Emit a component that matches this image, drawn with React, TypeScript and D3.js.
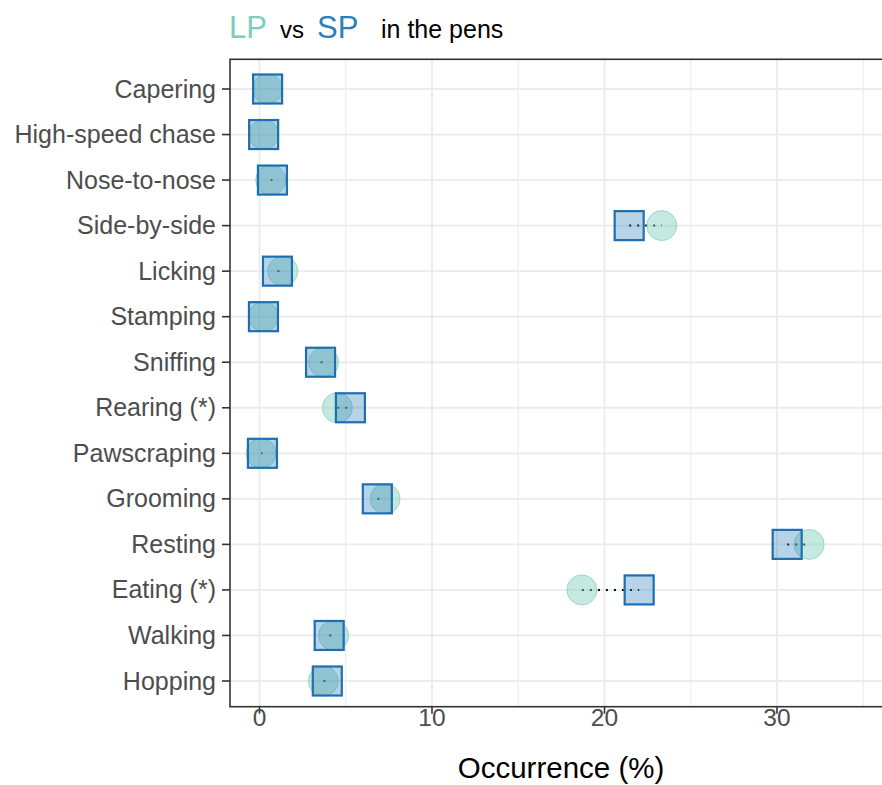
import React from "react";
import * as d3 from "d3";

const categories = [
  "Capering",
  "High-speed chase",
  "Nose-to-nose",
  "Side-by-side",
  "Licking",
  "Stamping",
  "Sniffing",
  "Rearing (*)",
  "Pawscraping",
  "Grooming",
  "Resting",
  "Eating (*)",
  "Walking",
  "Hopping",
];
const lpValues = [0.47, 0.24, 0.65, 23.32, 1.35, 0.23, 3.72, 4.51, 0.09, 7.28, 31.86, 18.69, 4.3, 3.7];
const spValues = [0.47, 0.24, 0.75, 21.43, 1.04, 0.23, 3.54, 5.27, 0.17, 6.83, 30.59, 22.01, 4.04, 3.93];
const majorTicks = [0, 10, 20, 30];
const minorTicks = [5, 15, 25, 35];

const W = 882;
const H = 785;
const panel = { left: 230, right: 892, top: 59.3, bottom: 706.7 };
const LP_COLOR = "#7fcdbb";
const SP_COLOR = "#2c7fb8";
const SP_STROKE = "#1f6fb0";
const FONT = "'Liberation Sans', Arial, sans-serif";

export default function App() {
  const x = d3
    .scaleLinear()
    .domain([-1.71, (panel.right - 259.5) / 17.25])
    .range([panel.left, panel.right]);
  const y = d3.scalePoint<string>().domain(categories).range([89, 681]).padding(0);

  const rows = categories.map((c, i) => ({ c, lp: lpValues[i], sp: spValues[i] }));
  const half = 14.5;
  const r = 15;

  return (
    <svg
      width={W}
      height={H}
      style={{ position: "absolute", left: 0, top: 0, background: "#fff" }}
      fontFamily={FONT}
    >
      <rect x={0} y={0} width={W} height={H} fill="#fff" />
      <g>
        {minorTicks.map((t) => (
          <line key={"mi" + t} x1={x(t)} x2={x(t)} y1={panel.top} y2={panel.bottom} stroke="#ebebeb" strokeWidth={1} />
        ))}
        {majorTicks.map((t) => (
          <line key={"ma" + t} x1={x(t)} x2={x(t)} y1={panel.top} y2={panel.bottom} stroke="#ebebeb" strokeWidth={1.8} />
        ))}
        {categories.map((c) => (
          <line key={"h" + c} x1={panel.left} x2={panel.right} y1={y(c)} y2={y(c)} stroke="#ebebeb" strokeWidth={1.8} />
        ))}
      </g>
      <g>
        {rows.map((d) => (
          <line
            key={"s" + d.c}
            x1={x(Math.min(d.lp, d.sp))}
            x2={x(Math.max(d.lp, d.sp))}
            y1={y(d.c)}
            y2={y(d.c)}
            stroke="#000"
            strokeWidth={2}
            strokeDasharray="2 6"
          />
        ))}
      </g>
      <g>
        {rows.map((d) => (
          <circle
            key={"lp" + d.c}
            cx={x(d.lp)}
            cy={y(d.c)}
            r={r}
            fill={LP_COLOR}
            fillOpacity={0.45}
            stroke={LP_COLOR}
            strokeOpacity={0.7}
            strokeWidth={1}
          />
        ))}
      </g>
      <g>
        {rows.map((d) => (
          <rect
            key={"sp" + d.c}
            x={x(d.sp) - half}
            y={(y(d.c) as number) - half}
            width={half * 2}
            height={half * 2}
            fill={SP_COLOR}
            fillOpacity={0.34}
            stroke={SP_STROKE}
            strokeWidth={2.2}
          />
        ))}
      </g>
      <rect
        x={panel.left}
        y={panel.top}
        width={panel.right - panel.left}
        height={panel.bottom - panel.top}
        fill="none"
        stroke="#333333"
        strokeWidth={1.6}
      />
      <g>
        {categories.map((c) => (
          <g key={"yl" + c}>
            <line x1={222} x2={panel.left} y1={y(c)} y2={y(c)} stroke="#333333" strokeWidth={1.6} />
            <text x={216} y={(y(c) as number) + 8.5} textAnchor="end" fontSize={25} fill="#4d4d4d">
              {c}
            </text>
          </g>
        ))}
      </g>
      <g>
        {majorTicks.map((t) => (
          <g key={"xl" + t}>
            <line x1={x(t)} x2={x(t)} y1={panel.bottom} y2={panel.bottom + 7} stroke="#333333" strokeWidth={1.6} />
            <text x={x(t)} y={726} textAnchor="middle" fontSize={24.5} fill="#4d4d4d">
              {t}
            </text>
          </g>
        ))}
        <text x={(panel.left + panel.right) / 2} y={778} textAnchor="middle" fontSize={29.5} fill="#000">
          Occurrence (%)
        </text>
      </g>
      <text y={38}>
        <tspan x={229} fontSize={31} fill={LP_COLOR}>LP</tspan>
        <tspan x={280} fontSize={24} fill="#000">vs</tspan>
        <tspan x={317} fontSize={31} fill={SP_COLOR}>SP</tspan>
        <tspan x={381} fontSize={25} fill="#000">in the pens</tspan>
      </text>
    </svg>
  );
}
